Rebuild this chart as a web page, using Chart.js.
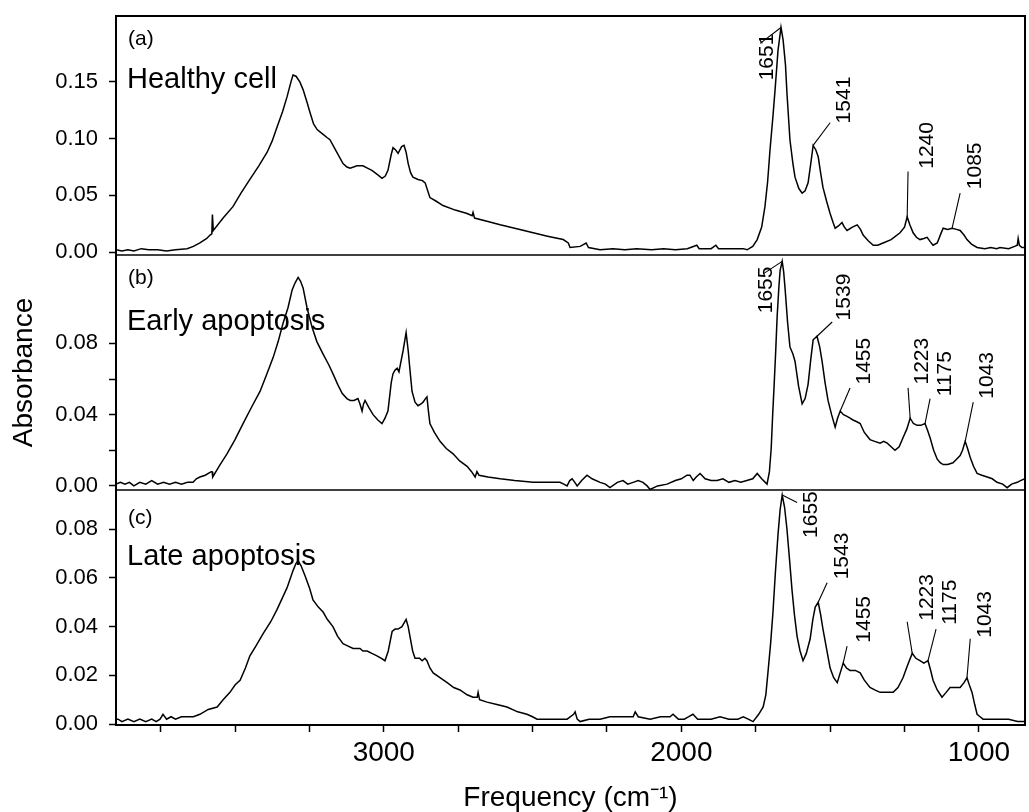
<!DOCTYPE html>
<html><head><meta charset="utf-8">
<script src="https://cdn.jsdelivr.net/npm/chart.js@4/dist/chart.umd.min.js"></script>
<style>html,body{margin:0;padding:0;background:#fff;}#wrap{width:1029px;height:812px;position:relative;}canvas{display:block;}</style>
</head><body><div id="wrap"><canvas id="c" width="1029" height="812"></canvas></div>
<script>
// ---- data: [wavenumber (cm-1), absorbance] ----
const healthy = [
[3900,0.002],[3880,0.001],[3860,0.002],[3840,0.001],[3815,0.003],[3790,0.002],[3760,0.002],[3730,0.001],[3700,0.002],[3661,0.003],[3640,0.005],[3618,0.008],[3595,0.012],[3584,0.015],[3578,0.016],[3576,0.033],[3573,0.019],[3540,0.030],[3507,0.040],[3480,0.052],[3450,0.064],[3420,0.076],[3392,0.088],[3375,0.098],[3359,0.110],[3340,0.124],[3325,0.137],[3312,0.150],[3305,0.156],[3295,0.155],[3282,0.150],[3271,0.143],[3258,0.132],[3248,0.123],[3236,0.113],[3224,0.108],[3205,0.104],[3191,0.101],[3181,0.099],[3160,0.089],[3137,0.078],[3124,0.075],[3113,0.074],[3090,0.076],[3070,0.076],[3055,0.074],[3040,0.072],[3020,0.068],[3006,0.065],[2995,0.067],[2986,0.072],[2975,0.086],[2969,0.092],[2960,0.090],[2952,0.087],[2940,0.093],[2932,0.094],[2925,0.088],[2918,0.078],[2910,0.070],[2902,0.066],[2885,0.064],[2870,0.063],[2861,0.061],[2845,0.048],[2825,0.045],[2801,0.041],[2760,0.037],[2720,0.034],[2703,0.032],[2700,0.035],[2695,0.030],[2650,0.027],[2609,0.024],[2560,0.021],[2498,0.017],[2450,0.014],[2397,0.011],[2380,0.008],[2374,0.004],[2340,0.005],[2320,0.008],[2312,0.004],[2273,0.002],[2230,0.003],[2190,0.002],[2150,0.003],[2100,0.002],[2060,0.003],[2020,0.002],[1980,0.003],[1948,0.006],[1940,0.003],[1900,0.003],[1884,0.006],[1875,0.003],[1830,0.003],[1792,0.003],[1779,0.002],[1760,0.005],[1745,0.011],[1730,0.022],[1719,0.040],[1710,0.062],[1702,0.090],[1692,0.120],[1685,0.143],[1675,0.178],[1665,0.198],[1658,0.187],[1650,0.165],[1645,0.140],[1635,0.099],[1625,0.078],[1618,0.066],[1605,0.056],[1594,0.052],[1584,0.054],[1574,0.061],[1565,0.078],[1557,0.094],[1548,0.090],[1540,0.084],[1532,0.070],[1524,0.057],[1512,0.045],[1500,0.034],[1490,0.026],[1483,0.021],[1472,0.023],[1460,0.026],[1452,0.022],[1443,0.019],[1425,0.022],[1409,0.024],[1398,0.020],[1389,0.015],[1372,0.010],[1355,0.006],[1340,0.006],[1322,0.008],[1295,0.011],[1265,0.017],[1250,0.022],[1241,0.031],[1232,0.024],[1221,0.017],[1210,0.013],[1198,0.011],[1185,0.012],[1174,0.013],[1163,0.009],[1154,0.006],[1140,0.008],[1128,0.016],[1120,0.021],[1105,0.020],[1090,0.021],[1075,0.020],[1063,0.019],[1050,0.015],[1040,0.011],[1025,0.007],[1006,0.004],[980,0.003],[960,0.004],[940,0.003],[929,0.004],[900,0.003],[880,0.005],[871,0.006],[868,0.012],[864,0.006],[855,0.004],[845,0.004]
];
const early = [
[3900,0.001],[3885,0.002],[3870,0.001],[3855,0.002],[3840,0.000],[3820,0.002],[3800,0.001],[3780,0.003],[3760,0.001],[3740,0.002],[3720,0.001],[3700,0.002],[3680,0.001],[3660,0.002],[3641,0.002],[3630,0.004],[3618,0.005],[3600,0.006],[3580,0.008],[3577,0.008],[3575,0.005],[3550,0.012],[3527,0.018],[3500,0.026],[3473,0.035],[3445,0.044],[3416,0.053],[3395,0.062],[3372,0.072],[3355,0.081],[3339,0.091],[3322,0.100],[3308,0.110],[3298,0.114],[3288,0.117],[3280,0.115],[3271,0.111],[3258,0.100],[3241,0.089],[3225,0.081],[3204,0.074],[3185,0.068],[3171,0.063],[3155,0.057],[3140,0.052],[3124,0.049],[3113,0.048],[3100,0.048],[3087,0.049],[3080,0.046],[3073,0.042],[3068,0.046],[3063,0.048],[3050,0.044],[3036,0.040],[3020,0.037],[3006,0.035],[2996,0.038],[2986,0.042],[2975,0.058],[2969,0.063],[2962,0.065],[2955,0.066],[2949,0.064],[2942,0.070],[2935,0.076],[2925,0.086],[2918,0.076],[2912,0.065],[2905,0.053],[2895,0.047],[2885,0.045],[2875,0.046],[2868,0.047],[2860,0.049],[2855,0.050],[2850,0.042],[2845,0.035],[2830,0.030],[2811,0.025],[2790,0.021],[2767,0.018],[2745,0.014],[2720,0.011],[2705,0.008],[2693,0.005],[2687,0.008],[2680,0.006],[2650,0.005],[2609,0.004],[2560,0.003],[2498,0.002],[2450,0.002],[2408,0.002],[2395,0.001],[2384,0.000],[2375,0.003],[2367,0.004],[2358,0.002],[2350,0.000],[2335,0.003],[2317,0.006],[2300,0.004],[2273,0.002],[2255,0.001],[2240,-0.001],[2215,0.002],[2196,0.003],[2180,0.001],[2162,0.002],[2145,0.003],[2129,0.002],[2115,0.000],[2105,-0.002],[2080,0.000],[2048,0.001],[2020,0.003],[2000,0.004],[1981,0.006],[1971,0.006],[1960,0.003],[1950,0.005],[1937,0.007],[1920,0.004],[1900,0.003],[1880,0.003],[1860,0.004],[1840,0.002],[1820,0.003],[1800,0.002],[1780,0.003],[1760,0.004],[1745,0.007],[1730,0.004],[1712,0.001],[1704,0.008],[1698,0.021],[1693,0.040],[1688,0.057],[1683,0.075],[1678,0.095],[1672,0.112],[1668,0.121],[1661,0.126],[1656,0.120],[1651,0.110],[1643,0.092],[1635,0.078],[1625,0.074],[1618,0.070],[1606,0.056],[1594,0.046],[1584,0.049],[1574,0.057],[1565,0.071],[1557,0.082],[1544,0.084],[1535,0.078],[1527,0.070],[1517,0.058],[1507,0.048],[1495,0.040],[1483,0.033],[1475,0.038],[1466,0.042],[1455,0.040],[1443,0.039],[1433,0.038],[1423,0.037],[1410,0.036],[1399,0.035],[1385,0.030],[1366,0.026],[1350,0.025],[1332,0.024],[1320,0.025],[1308,0.024],[1295,0.022],[1282,0.020],[1268,0.022],[1255,0.027],[1242,0.032],[1231,0.038],[1220,0.035],[1208,0.034],[1195,0.034],[1181,0.035],[1172,0.031],[1164,0.027],[1152,0.020],[1140,0.015],[1130,0.013],[1120,0.012],[1105,0.012],[1087,0.013],[1075,0.015],[1063,0.017],[1055,0.020],[1046,0.025],[1038,0.021],[1029,0.016],[1018,0.011],[1006,0.007],[990,0.006],[972,0.005],[955,0.004],[939,0.002],[920,0.001],[905,-0.001],[890,0.001],[871,0.002],[860,0.003],[845,0.004]
];
const late = [
[3900,0.002],[3893,0.002],[3880,0.001],[3860,0.002],[3840,0.001],[3820,0.002],[3800,0.001],[3780,0.002],[3765,0.001],[3752,0.002],[3742,0.004],[3730,0.002],[3715,0.003],[3700,0.002],[3680,0.003],[3661,0.003],[3640,0.003],[3618,0.004],[3590,0.006],[3560,0.007],[3540,0.010],[3517,0.013],[3500,0.016],[3483,0.018],[3465,0.023],[3450,0.028],[3430,0.032],[3406,0.037],[3380,0.042],[3359,0.047],[3340,0.052],[3325,0.056],[3305,0.063],[3295,0.066],[3288,0.067],[3278,0.065],[3265,0.061],[3250,0.056],[3238,0.051],[3220,0.048],[3204,0.046],[3190,0.043],[3171,0.040],[3155,0.036],[3137,0.033],[3120,0.032],[3103,0.031],[3080,0.031],[3070,0.030],[3056,0.030],[3040,0.029],[3023,0.028],[3008,0.027],[2996,0.026],[2985,0.030],[2972,0.038],[2962,0.039],[2952,0.039],[2939,0.040],[2925,0.043],[2918,0.040],[2912,0.036],[2903,0.030],[2895,0.027],[2880,0.027],[2871,0.026],[2862,0.027],[2855,0.026],[2845,0.023],[2834,0.021],[2810,0.019],[2787,0.017],[2765,0.015],[2744,0.014],[2720,0.012],[2700,0.011],[2686,0.011],[2683,0.013],[2678,0.010],[2653,0.009],[2620,0.008],[2586,0.007],[2550,0.005],[2519,0.004],[2500,0.003],[2485,0.002],[2440,0.002],[2400,0.002],[2384,0.002],[2362,0.004],[2357,0.005],[2350,0.002],[2340,0.001],[2310,0.002],[2273,0.002],[2240,0.003],[2200,0.003],[2162,0.003],[2155,0.005],[2145,0.003],[2105,0.002],[2070,0.003],[2038,0.003],[2028,0.004],[2010,0.002],[1990,0.002],[1975,0.003],[1961,0.004],[1945,0.002],[1920,0.002],[1900,0.002],[1870,0.003],[1840,0.002],[1810,0.002],[1792,0.003],[1775,0.002],[1759,0.001],[1740,0.004],[1725,0.007],[1716,0.012],[1709,0.021],[1700,0.033],[1692,0.046],[1684,0.062],[1675,0.078],[1668,0.088],[1661,0.094],[1653,0.089],[1645,0.080],[1636,0.067],[1628,0.055],[1620,0.045],[1611,0.036],[1601,0.030],[1591,0.026],[1580,0.029],[1567,0.035],[1558,0.043],[1550,0.048],[1540,0.050],[1532,0.045],[1524,0.039],[1512,0.031],[1500,0.023],[1488,0.019],[1476,0.017],[1466,0.021],[1456,0.025],[1445,0.023],[1433,0.022],[1415,0.022],[1399,0.021],[1385,0.018],[1366,0.015],[1350,0.014],[1332,0.013],[1310,0.013],[1288,0.013],[1272,0.015],[1255,0.019],[1240,0.024],[1224,0.029],[1212,0.027],[1198,0.026],[1185,0.025],[1171,0.026],[1162,0.022],[1154,0.018],[1140,0.014],[1124,0.011],[1110,0.013],[1097,0.015],[1080,0.015],[1063,0.015],[1050,0.017],[1040,0.019],[1032,0.016],[1023,0.013],[1014,0.008],[1006,0.004],[996,0.003],[986,0.002],[960,0.002],[930,0.002],[900,0.002],[870,0.001],[845,0.001]
];

// panel texts
const panelLetters = ['(a)', '(b)', '(c)'];
const panelNames = ['Healthy cell', 'Early apoptosis', 'Late apoptosis'];

// peak labels: text, label anchor [cm-1, abs], leader from peak to [cm-1, abs]
const peaksA = [
  {label:'1651', at:[1712,0.172], from:[1665,0.198], to:[1735,0.184]},
  {label:'1541', at:[1453,0.134], from:[1557,0.094], to:[1500,0.114]},
  {label:'1240', at:[1174,0.094], from:[1241,0.031], to:[1238,0.071]},
  {label:'1085', at:[1013,0.076], from:[1090,0.021], to:[1063,0.052]}
];
const peaksB = [
  {label:'1655', at:[1715,0.110], from:[1661,0.126], to:[1725,0.119]},
  {label:'1539', at:[1453,0.106], from:[1544,0.084], to:[1493,0.092]},
  {label:'1455', at:[1386,0.070], from:[1466,0.042], to:[1433,0.055]},
  {label:'1223', at:[1191,0.070], from:[1231,0.038], to:[1238,0.055]},
  {label:'1175', at:[1113,0.063], from:[1181,0.035], to:[1164,0.049]},
  {label:'1043', at:[972,0.062], from:[1046,0.025], to:[1019,0.047]}
];
const peaksC = [
  {label:'1655', at:[1564,0.086], from:[1661,0.094], to:[1611,0.091]},
  {label:'1543', at:[1460,0.069], from:[1540,0.050], to:[1510,0.058]},
  {label:'1455', at:[1386,0.043], from:[1456,0.025], to:[1443,0.032]},
  {label:'1223', at:[1174,0.052], from:[1224,0.029], to:[1241,0.042]},
  {label:'1175', at:[1097,0.050], from:[1171,0.026], to:[1144,0.039]},
  {label:'1043', at:[979,0.045], from:[1040,0.019], to:[1029,0.035]}
];

// ticks
const xTickValues = [3750,3500,3250,3000,2750,2500,2250,2000,1750,1500,1250,1000];
const xTickLabels = ['','','','3000','','','','2000','','','','1000'];
const yTicksA = [0,0.05,0.10,0.15];
const yLabelsA = ['0.00','0.05','0.10','0.15'];
const yTicksB = [0,0.02,0.04,0.06,0.08];
const yLabelsB = ['0.00','','0.04','','0.08'];
const yTicksC = [0,0.02,0.04,0.06,0.08];
const yLabelsC = ['0.00','0.02','0.04','0.06','0.08'];
const xRange = [845, 3900];
const yRangeA = [-0.0026, 0.2081];
const yRangeB = [-0.0023, 0.1296];
const yRangeC = [-0.0004, 0.0961];

// ---- build ----
const FONT = "'Liberation Sans', Arial, Helvetica, sans-serif";
const INK = '#000';
const toXY = arr => arr.map(p => ({x: p[0], y: p[1]}));
const datasets = [];
function spectrum(data, axis) {
  datasets.push({data: toXY(data), yAxisID: axis, borderColor:INK, borderWidth:1.5, pointRadius:0, showLine:true, tension:0, fill:false});
}
function leaders(peaks, axis) {
  peaks.forEach(p => datasets.push({data: toXY([p.from, p.to]), yAxisID: axis, borderColor:INK, borderWidth:1.1, pointRadius:0, showLine:true, fill:false}));
}
spectrum(healthy, 'ya'); spectrum(early, 'yb'); spectrum(late, 'yc');
leaders(peaksA, 'ya'); leaders(peaksB, 'yb'); leaders(peaksC, 'yc');

function yAxis(range, ticks, labels, weight, withTitle) {
  return {
    type:'linear', position:'left', stack:'panels', stackWeight:weight, offset:false,
    min:range[0], max:range[1],
    afterBuildTicks: s => { s.ticks = ticks.map(v => ({value:v})); },
    afterFit: s => { s.width = 116; s.paddingTop = 0; s.paddingBottom = 0; },
    ticks:{ callback:(v,i)=>labels[i], color:INK, font:{family:FONT, size:22}, padding:11, autoSkip:false },
    grid:{ drawOnChartArea:false, drawTicks:true, tickLength:7, color:INK, tickWidth:1.5 },
    border:{ display:true, color:INK, width:2 },
    title:{ display:withTitle, text:'Absorbance', color:INK, font:{family:FONT, size:28}, padding:{top:7,bottom:0} }
  };
}

const framePlugin = {
  id:'frame',
  afterDraw(chart) {
    const ctx = chart.ctx, a = chart.chartArea, sc = chart.scales;
    ctx.save();
    ctx.strokeStyle = INK;
    ctx.lineWidth = 2;
    ctx.beginPath();
    ctx.moveTo(a.left, a.top); ctx.lineTo(a.right, a.top); ctx.lineTo(a.right, a.bottom);
    ctx.stroke();
    ctx.lineWidth = 1.6;
    ['ya','yb'].forEach(id => {
      const y = sc[id].bottom;
      ctx.beginPath(); ctx.moveTo(a.left, y); ctx.lineTo(a.right, y); ctx.stroke();
    });
    // panel letters and names
    ctx.fillStyle = INK;
    ctx.textAlign = 'left';
    const ids = ['ya','yb','yc'];
    const letterDy = [23, 23, 28], nameDy = [72, 75, 75];
    ids.forEach((id, i) => {
      const top = sc[id].top;
      ctx.font = `21px ${FONT}`; ctx.textBaseline = 'middle';
      ctx.fillText(panelLetters[i], a.left + 12, top + letterDy[i]);
      ctx.font = `29px ${FONT}`; ctx.textBaseline = 'alphabetic';
      ctx.fillText(panelNames[i], a.left + 11, top + nameDy[i]);
    });
    // peak labels
    ctx.font = `21px ${FONT}`;
    ctx.textAlign = 'center'; ctx.textBaseline = 'middle';
    [[peaksA,'ya'],[peaksB,'yb'],[peaksC,'yc']].forEach(([peaks,id]) => {
      peaks.forEach(p => {
        const x = sc.x.getPixelForValue(p.at[0]);
        const y = sc[id].getPixelForValue(p.at[1]);
        ctx.save(); ctx.translate(x, y); ctx.rotate(-Math.PI/2);
        ctx.fillText(p.label, 0, 0); ctx.restore();
      });
    });
    ctx.restore();
  }
};

new Chart(document.getElementById('c'), {
  type:'scatter',
  data:{ datasets },
  options:{
    responsive:false, animation:false, devicePixelRatio:1,
    layout:{ padding:{ top:16, right:4, left:0, bottom:0 } },
    plugins:{ legend:{display:false}, tooltip:{enabled:false} },
    scales:{
      x:{
        type:'linear', position:'bottom', reverse:true, min:xRange[0], max:xRange[1],
        afterBuildTicks: s => { s.ticks = xTickValues.map(v => ({value:v})); },
        afterFit: s => { s.height = 87; s.paddingLeft = 0; s.paddingRight = 0; },
        ticks:{ callback:(v,i)=>xTickLabels[i], color:INK, font:{family:FONT, size:28}, padding:4, autoSkip:false, maxRotation:0 },
        grid:{ drawOnChartArea:false, drawTicks:true, tickLength:7, color:INK, tickWidth:1.5 },
        border:{ display:true, color:INK, width:2 },
        title:{ display:true, text:'Frequency (cm\u207B\u00B9)', color:INK, font:{family:FONT, size:28, lineHeight:1.0}, padding:{top:0,bottom:0} }
      },
      yc: yAxis(yRangeC, yTicksC, yLabelsC, 235, false),
      yb: yAxis(yRangeB, yTicksB, yLabelsB, 235, true),
      ya: yAxis(yRangeA, yTicksA, yLabelsA, 239, false)
    }
  },
  plugins:[framePlugin]
});
</script>
</body></html>
